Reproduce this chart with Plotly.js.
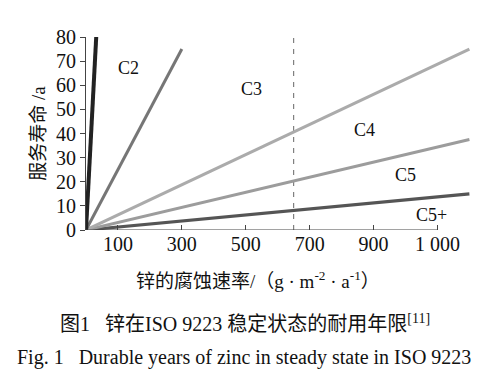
<!DOCTYPE html>
<html>
<head>
<meta charset="utf-8">
<script src="https://cdn.plot.ly/plotly-3.0.1.min.js"></script>
<style>html,body{margin:0;padding:0;background:#fff;}#chart{width:495px;height:386px;}</style>
</head>
<body>
<div id="chart"></div>
<script>
// ---- data ----
var rateC1 = [0, 32];      var lifeC1 = [0, 80];
var rateC2 = [0, 300];     var lifeC2 = [0, 75];
var rateC3 = [0, 1200];    var lifeC3 = [0, 75];
var rateC4 = [0, 1200];    var lifeC4 = [0, 37.5];
var rateC5 = [0, 1200];    var lifeC5 = [0, 15];
var dashRate = [650, 650]; var dashLife = [0, 80];
var zoneNames = ['C2', 'C3', 'C4', 'C5', 'C5+'];
var zoneX = [132, 518, 872, 1000, 1080];
var zoneY = [67.3, 58.3, 41.6, 22.8, 6.2];
var xTickVals = [100, 300, 500, 700, 900, 1100];
var xTickText = ['100', '300', '500', '700', '900', '1 000'];
var yTickVals = [0, 10, 20, 30, 40, 50, 60, 70, 80];

var serif = '"Liberation Serif", "Times New Roman", "Noto Sans CJK SC", serif';
var cjk = '"Liberation Serif", "Noto Sans CJK SC", serif';

function line(x, y, color, width, dash) {
  return {x: x, y: y, type: 'scatter', mode: 'lines', hoverinfo: 'skip',
    line: {color: color, width: width, dash: dash || 'solid'}, showlegend: false};
}
var traces = [
  line(dashRate, dashLife, '#666666', 1, '5px,6px'),
  line(rateC5, lifeC5, '#555555', 3.2),
  line(rateC4, lifeC4, '#9c9c9c', 3),
  line(rateC3, lifeC3, '#ababab', 3),
  line(rateC2, lifeC2, '#767676', 3),
  line(rateC1, lifeC1, '#222222', 4)
];

var annotations = zoneNames.map(function (t, i) {
  return {x: zoneX[i], y: zoneY[i], xref: 'x', yref: 'y', text: t, showarrow: false,
    font: {family: serif, size: 18, color: '#111'}, xanchor: 'center', yanchor: 'middle'};
});
annotations.push({xref: 'paper', yref: 'paper', x: 0.448, y: -0.259, xanchor: 'center', yanchor: 'middle',
  text: '锌的腐蚀速率/（g · m<sup>-2</sup> · a<sup>-1</sup>）', showarrow: false,
  font: {family: cjk, size: 19, color: '#111'}});
annotations.push({xref: 'paper', yref: 'paper', x: 0.413, y: -0.481, xanchor: 'center', yanchor: 'middle',
  text: '图1\u2002 锌在ISO 9223 稳定状态的耐用年限<sup>[11]</sup>', showarrow: false,
  font: {family: cjk, size: 20, color: '#111'}});
annotations.push({xref: 'paper', yref: 'paper', x: 0.411, y: -0.662, xanchor: 'center', yanchor: 'middle',
  text: 'Fig. 1\u2002 Durable years of zinc in steady state in ISO 9223', showarrow: false,
  font: {family: serif, size: 20, color: '#111'}});

var layout = {
  width: 495, height: 386,
  margin: {l: 86, r: 24, t: 37, b: 156},
  paper_bgcolor: '#fff', plot_bgcolor: '#fff',
  showlegend: false,
  font: {family: serif, size: 20, color: '#111'},
  xaxis: {range: [0, 1205], tickmode: 'array', tickvals: xTickVals, ticktext: xTickText,
    ticks: 'inside', ticklen: 5, tickcolor: '#444', showgrid: false, zeroline: false,
    showline: false, tickfont: {family: serif, size: 20, color: '#111'}, fixedrange: true},
  yaxis: {range: [0, 80], tickmode: 'array', tickvals: yTickVals,
    ticks: 'outside', ticklen: 5, tickcolor: '#444', showgrid: false, zeroline: false,
    showline: true, linecolor: '#444', linewidth: 1,
    tickfont: {family: serif, size: 20, color: '#111'},
    title: {text: '服务寿命 /a', font: {family: cjk, size: 19, color: '#111'}, standoff: 5},
    fixedrange: true},
  shapes: [{type: 'line', xref: 'x', yref: 'y', x0: 0, x1: xTickVals[xTickVals.length - 1], y0: 0, y1: 0,
    line: {color: '#444', width: 1}, layer: 'above'}],
  annotations: annotations
};
Plotly.newPlot('chart', traces, layout, {staticPlot: true, displayModeBar: false});
</script>
</body>
</html>
